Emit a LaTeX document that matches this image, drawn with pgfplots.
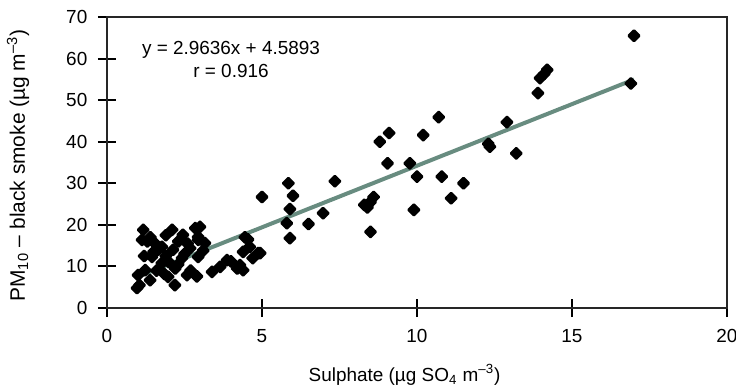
\documentclass[border=0pt]{standalone}
\usepackage{pgfplots}
\pgfplotsset{compat=1.18}
\usepackage{fontspec}
\setmainfont{Liberation Sans}
\definecolor{regline}{RGB}{104,140,128}
\begin{document}
\fontsize{9.5}{11}\selectfont
\begin{tikzpicture}
\begin{axis}[
  scale only axis,
  width=310bp, height=145.5bp,
  xmin=0, xmax=20, ymin=0, ymax=70,
  xtick={0,5,...,20}, ytick={0,10,...,70},
  tick pos=left,
  tick align=center,
  major tick length=9bp,
  axis line style={line width=1bp, black!85},
  tick style={line width=1bp, black},
  /pgf/number format/assume math mode=true,
  xticklabel style={yshift=-3bp},
  yticklabel style={xshift=-2bp},
  ylabel={PM\textsubscript{10} – black smoke (µg m\textsuperscript{–3})},
  xlabel={Sulphate (µg SO\textsubscript{4} m\textsuperscript{–3})},
  ylabel style={at={(axis description cs:-0.1435,0.49)}, anchor=center, font=\fontsize{10.5}{12}\selectfont},
  xlabel style={at={(axis description cs:0.48,-0.23)}, anchor=center},
  clip=false,
]
\addplot[only marks, mark=square*, mark size=1.9pt, black,
  mark options={rotate=45, line join=round, line width=1.2pt}] coordinates {
(1.17,18.8) (1.13,16.4) (1.40,17.0) (2.10,18.8) (2.45,17.6) (2.85,19.2)
(1.65,14.0) (1.45,12.3) (1.77,10.8) (1.23,9.1) (1.00,7.9) (0.97,4.8)
(1.05,5.5) (1.39,6.7) (1.97,7.5) (2.19,5.5) (2.58,7.9) (2.42,12.0)
(2.13,14.0) (2.68,14.4) (2.94,16.4) (1.77,14.7) (3.00,19.5) (2.94,17.1)
(3.16,15.6) (2.94,12.3) (3.39,8.7) (3.65,9.9) (3.87,11.5) (4.29,10.3)
(4.39,13.5) (4.60,14.7) (4.87,13.2) (4.39,9.1) (4.45,17.0) (4.55,16.5)
(1.3,16.0) (1.55,15.5) (1.9,12.5) (2.0,11.0) (2.2,9.5) (2.3,10.5)
(1.6,9.0) (1.85,8.2) (2.7,9.0) (2.9,7.6) (2.6,15.5) (2.3,16.0)
(1.9,17.5) (1.5,13.5) (2.5,13.0) (3.1,13.8) (1.2,12.5) (4.0,11.2)
(4.7,12.0) (4.94,13.2) (4.2,9.5)
(5.0,26.7) (5.85,30.0) (6.0,27.0) (5.9,23.8) (5.8,20.4) (5.9,16.8)
(6.5,20.2) (6.97,22.8) (7.35,30.5) (8.3,24.8) (8.6,26.7) (8.5,25.5)
(8.4,24.2) (8.5,18.3) (8.8,40.0) (9.1,42.1) (9.05,34.8) (9.77,34.8)
(10.0,31.6) (9.9,23.6) (10.2,41.6) (10.7,45.9) (10.8,31.6) (11.1,26.4)
(11.5,30.0) (12.3,39.5) (12.35,38.8) (12.9,44.7) (13.2,37.2) (13.9,51.7)
(13.97,55.3) (14.1,56.3) (14.2,57.3) (16.9,54.0) (17.0,65.5)
};
\addplot[regline, line width=2bp] coordinates {(1.0,7.5529) (17.0,54.9705)};
\node[align=center, font=\fontsize{9.5}{11.5}\selectfont] at (axis cs:4.0,59.7) {y = 2.9636x + 4.5893\\r = 0.916};
\coordinate (BL) at (rel axis cs:0,0);
\coordinate (TR) at (rel axis cs:1,1);
\end{axis}
\pgfresetboundingbox
\path[use as bounding box] ([shift={(-53.5bp,-39.5bp)}]BL) rectangle ([shift={(4.5bp,8.5bp)}]TR);
\end{tikzpicture}
\end{document}
